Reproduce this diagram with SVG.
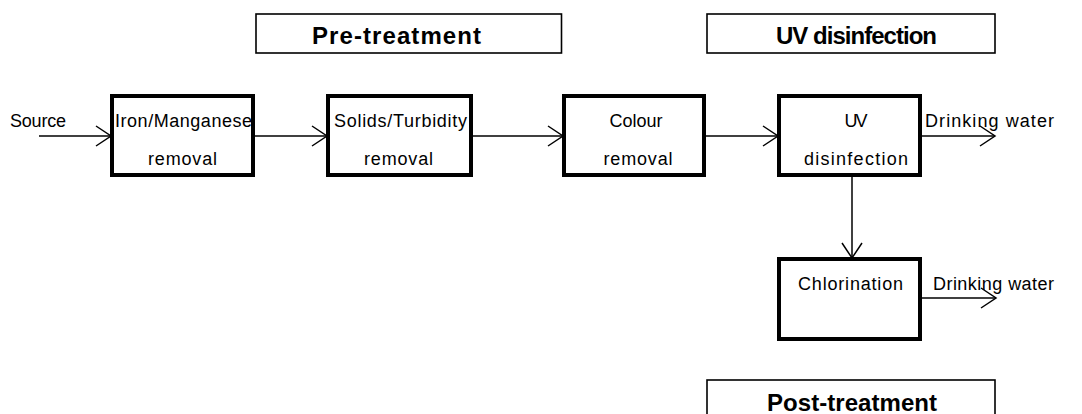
<svg xmlns="http://www.w3.org/2000/svg" width="1082" height="414" viewBox="0 0 1082 414">
<style>
.node{fill:#fff;stroke:#000;stroke-width:4}
.hdr{fill:#fff;stroke:#000;stroke-width:1.6}
.t{font-family:"Liberation Sans",Arial,sans-serif;font-size:18px;fill:#000}
.h{font-family:"Liberation Sans",Arial,sans-serif;font-size:24px;font-weight:bold;fill:#000}
.c{fill:none;stroke:#000;stroke-width:1.5}
</style>
<defs>
<marker id="arr" viewBox="-16 -12 18 24" refX="0" refY="0" markerWidth="18" markerHeight="24" markerUnits="userSpaceOnUse" orient="auto">
<path d="M-15,-10 L0,0 L-15,10" fill="none" stroke="#000" stroke-width="1.5"/>
</marker>
</defs>
<rect width="1082" height="414" fill="#fff"/>
<g id="connectors">
<line class="c" x1="39" y1="136" x2="111" y2="136" marker-end="url(#arr)"/>
<line class="c" x1="255" y1="136" x2="327" y2="136" marker-end="url(#arr)"/>
<line class="c" x1="473" y1="136" x2="563" y2="136" marker-end="url(#arr)"/>
<line class="c" x1="706" y1="136" x2="778" y2="136" marker-end="url(#arr)"/>
<line class="c" x1="922" y1="136" x2="995" y2="136" marker-end="url(#arr)"/>
<line class="c" x1="852" y1="177" x2="852" y2="258" marker-end="url(#arr)"/>
<line class="c" x1="922" y1="298" x2="996" y2="298" marker-end="url(#arr)"/>
</g>
<g id="label-source"><text class="t" x="10" y="127" textLength="56">Source</text></g>
<g id="node-iron">
<rect class="node" x="112" y="96" width="141" height="79"/>
<text class="t" x="115" y="127" textLength="137">Iron/Manganese</text>
<text class="t" x="148" y="165" textLength="69">removal</text>
</g>
<g id="node-solids">
<rect class="node" x="328" y="96" width="143" height="79"/>
<text class="t" x="334" y="127" textLength="133">Solids/Turbidity</text>
<text class="t" x="364" y="165" textLength="69">removal</text>
</g>
<g id="node-colour">
<rect class="node" x="564" y="96" width="140" height="79"/>
<text class="t" x="609.5" y="127" textLength="53">Colour</text>
<text class="t" x="603.5" y="165" textLength="69">removal</text>
</g>
<g id="node-uv">
<rect class="node" x="779" y="96" width="141" height="79"/>
<text class="t" x="844.5" y="127" textLength="23">UV</text>
<text class="t" x="804" y="165" textLength="104">disinfection</text>
</g>
<g id="label-drinking1"><text class="t" x="925" y="127" textLength="129">Drinking water</text></g>
<g id="node-chlorination">
<rect class="node" x="779" y="259" width="141" height="80"/>
<text class="t" x="798" y="290" textLength="105">Chlorination</text>
</g>
<g id="label-drinking2"><text class="t" x="933" y="290" textLength="121">Drinking water</text></g>
<g id="header-pre">
<rect class="hdr" x="256" y="14" width="305.5" height="39"/>
<text class="h" x="312" y="44" textLength="169">Pre-treatment</text>
</g>
<g id="header-uv">
<rect class="hdr" x="707" y="14" width="288" height="39"/>
<text class="h" x="776" y="44" textLength="161">UV disinfection</text>
</g>
<g id="header-post">
<rect class="hdr" x="707" y="380" width="288" height="40"/>
<text class="h" x="767" y="411" textLength="170">Post-treatment</text>
</g>
</svg>
